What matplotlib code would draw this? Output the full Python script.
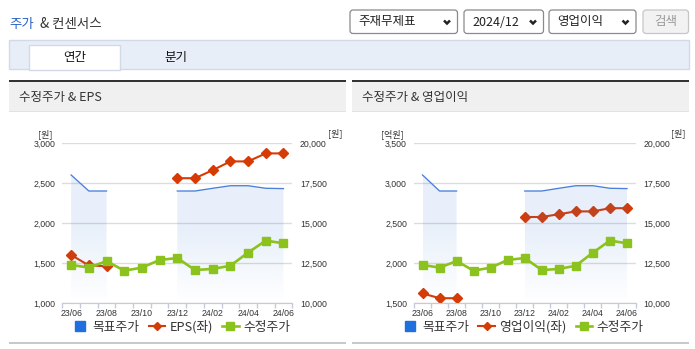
import numpy as np
import matplotlib.pyplot as plt
from matplotlib.colors import to_rgb
from matplotlib.lines import Line2D
from matplotlib.patches import Rectangle, FancyBboxPatch, Polygon

plt.rcParams['font.family'] = ['Noto Sans CJK KR', 'DejaVu Sans']

W, H = 695, 349
nan = np.nan

months = ['23/06', '23/07', '23/08', '23/09', '23/10', '23/11', '23/12',
          '24/01', '24/02', '24/03', '24/04', '24/05', '24/06']

# 목표주가 / 수정주가 (원, 우축)
target_price = [18000, 17000, 17000, nan, nan, nan, 17000, 17000, 17170, 17330, 17330, 17170, 17150]
adj_price = [12380, 12210, 12620, 12020, 12210, 12690, 12810, 12060, 12130, 12330, 13150, 13900, 13730]

# 좌축 시리즈
eps = [1600, 1470, 1460, nan, nan, nan, 2560, 2560, 2660, 2770, 2770, 2870, 2870]
op_income = [1620, 1560, 1560, nan, nan, nan, 2575, 2575, 2610, 2645, 2645, 2685, 2685]

eps_ticks = [1000, 1500, 2000, 2500, 3000]
op_ticks = [1500, 2000, 2500, 3000, 3500]
price_ticks = [10000, 12500, 15000, 17500, 20000]

BLUE = '#4a80dc'
RED = '#d63b05'
GREEN = '#8cc21e'
TEXT = '#333333'
NUM_FONT = ['Liberation Sans', 'DejaVu Sans']


def gradient_fill(ax, xs, ys, base, color):
    # 목표주가 아래 영역: 위에서 아래로 옅어지는 면
    top = max(ys)
    verts = [(xs[0], base)] + list(zip(xs, ys)) + [(xs[-1], base)]
    poly = Polygon(verts, closed=True, fc='none', ec='none', transform=ax.transData)
    ax.add_patch(poly)
    t = np.linspace(1, 0, 200)
    grad = np.zeros((200, 1, 4))
    grad[..., :3] = to_rgb(color)
    grad[..., 3] = (0.11 * np.clip(t / 0.6, 0, 1))[:, None]
    im = ax.imshow(grad, aspect='auto', origin='upper', zorder=1,
                   extent=(xs[0], xs[-1], base, top), interpolation='bilinear')
    im.set_clip_path(poly)


def segments(vals):
    out, cur = [], []
    for i, v in enumerate(vals):
        if np.isnan(v):
            if cur:
                out.append(cur)
            cur = []
        else:
            cur.append(i)
    if cur:
        out.append(cur)
    return out


def draw_chart(fig, box, left_vals, left_ticks, left_name, left_unit, legend_x):
    x0, y0, x1, y1 = box
    ax = fig.add_axes([x0 / W, 1 - y1 / H, (x1 - x0) / W, (y1 - y0) / H])
    ax.patch.set_alpha(0)
    ax2 = ax.twinx()
    x = np.arange(len(months))

    for seg in segments(target_price):
        gradient_fill(ax2, [x[i] for i in seg], [target_price[i] for i in seg],
                      price_ticks[0], '#2f74d6')
    ax2.plot(x, target_price, color=BLUE, lw=0.95, zorder=3)
    ax.plot(x, left_vals, color=RED, lw=1.5, marker='D', ms=4.8, zorder=3)
    ax2.plot(x, adj_price, color=GREEN, lw=1.9, marker='s', ms=5.4, zorder=4)

    ax.set_xlim(-0.5, len(months) - 0.5)
    ax.set_ylim(left_ticks[0], left_ticks[-1])
    ax2.set_ylim(price_ticks[0], price_ticks[-1])
    ax2.set_xlim(-0.5, len(months) - 0.5)

    ax.set_yticks(left_ticks, [f'{v:,}' for v in left_ticks])
    ax2.set_yticks(price_ticks, [f'{v:,}' for v in price_ticks])
    ax.set_xticks(x[::2], months[::2])
    ax.set_xticks(np.arange(-0.5, len(months)), minor=True)
    ax.grid(axis='y', color='#dcdcdc', lw=1)

    for a in (ax, ax2):
        for s in ('top', 'left', 'right'):
            a.spines[s].set_visible(False)
        a.spines['bottom'].set_color('#c3ccd8')
        a.tick_params(axis='y', length=0, labelsize=6.3, labelcolor=TEXT)
        for lab in a.get_yticklabels():
            lab.set_fontfamily(NUM_FONT)
    ax.tick_params(axis='y', pad=5)
    ax2.tick_params(axis='y', pad=5.5)
    ax.tick_params(axis='x', which='major', length=0, pad=4, labelsize=6.3, labelcolor=TEXT)
    ax.tick_params(axis='x', which='minor', length=3.5, width=1, color='#c3ccd8')
    for lab in ax.get_xticklabels():
        lab.set_fontfamily(NUM_FONT)

    # 단위
    fig.text((x0 - 10) / W, 1 - 134 / H, left_unit, ha='right', va='center',
             fontsize=6.5, color=TEXT)
    fig.text((x1 + 50) / W, 1 - 133 / H, '[원]', ha='right', va='center',
             fontsize=6.5, color=TEXT)

    handles = [
        Line2D([], [], ls='none', marker='s', ms=7.5, color='#1f6fde'),
        Line2D([], [], color=RED, lw=1.5, marker='D', ms=4.5),
        Line2D([], [], color=GREEN, lw=1.9, marker='s', ms=5.4),
    ]
    fig.legend(handles, ['목표주가', left_name, '수정주가'], loc='center',
               bbox_to_anchor=(legend_x / W, 1 - 327 / H), ncol=3, frameon=False,
               fontsize=9.2, handlelength=1.3, handletextpad=0.35, columnspacing=0.7,
               labelcolor=TEXT, borderpad=0)


def dropdown(bg, x0, x1, label):
    bg.add_patch(FancyBboxPatch((x0, 10), x1 - x0, 23.5,
                                boxstyle='round,pad=0,rounding_size=3',
                                fc='white', ec='#8a8a8a', lw=0.9))
    bg.text(x0 + 8, 22, label, ha='left', va='center', fontsize=9, color='#222222')
    cx = x1 - 10.5
    bg.plot([cx - 3, cx, cx + 3], [20.5, 23.5, 20.5], color='#222222', lw=1.8,
            solid_capstyle='butt', solid_joinstyle='miter')


def draw_frame(fig):
    bg = fig.add_axes([0, 0, 1, 1])
    bg.set_xlim(0, W)
    bg.set_ylim(H, 0)
    bg.axis('off')

    bg.text(9, 24, '주가', ha='left', va='center', fontsize=9.7, color='#2e64c8')
    bg.text(39.5, 24, '& 컨센서스', ha='left', va='center', fontsize=9.7, color=TEXT)

    dropdown(bg, 350, 457.5, '주재무제표')
    dropdown(bg, 464, 543.5, '2024/12')
    dropdown(bg, 549, 636, '영업이익')
    bg.add_patch(FancyBboxPatch((643, 10), 45.5, 23.5,
                                boxstyle='round,pad=0,rounding_size=3',
                                fc='#f2f2f2', ec='#c6c6c6', lw=0.9))
    bg.text(666, 22, '검색', ha='center', va='center', fontsize=9, color='#9a9a9a')

    # 탭
    bg.add_patch(Rectangle((9, 40), 680, 29.3, fc='#e8eef8', ec='#d2dae7', lw=1))
    bg.add_patch(Rectangle((29.3, 45), 91, 24.8, fc='white', ec='#d2dae7', lw=1))
    bg.text(75, 57.5, '연간', ha='center', va='center', fontsize=9, color='#111111')
    bg.text(176, 57.5, '분기', ha='center', va='center', fontsize=9, color='#111111')

    # 패널 머리
    for px0, title in ((9, '수정주가 & EPS'), (352, '수정주가 & 영업이익')):
        bg.add_patch(Rectangle((px0, 80), 337, 2, fc='#333333', ec='none'))
        bg.add_patch(Rectangle((px0, 82), 337, 30, fc='#f0f0f0', ec='none'))
        bg.add_patch(Rectangle((px0, 111), 337, 1.2, fc='#e2e2e2', ec='none'))
        bg.text(px0 + 10, 97.5, title, ha='left', va='center', fontsize=9, color=TEXT)
        bg.add_patch(Rectangle((px0, 342.3), 337, 2, fc='#c8c8c8', ec='none'))


fig = plt.figure(figsize=(W / 100, H / 100), dpi=100)
draw_frame(fig)
draw_chart(fig, (62.3, 143, 292.3, 303), eps, eps_ticks, 'EPS(좌)', '[원]', 181)
draw_chart(fig, (414, 143, 635.5, 303), op_income, op_ticks, '영업이익(좌)', '[억원]', 522.5)
fig.savefig('out.png', dpi=100)
